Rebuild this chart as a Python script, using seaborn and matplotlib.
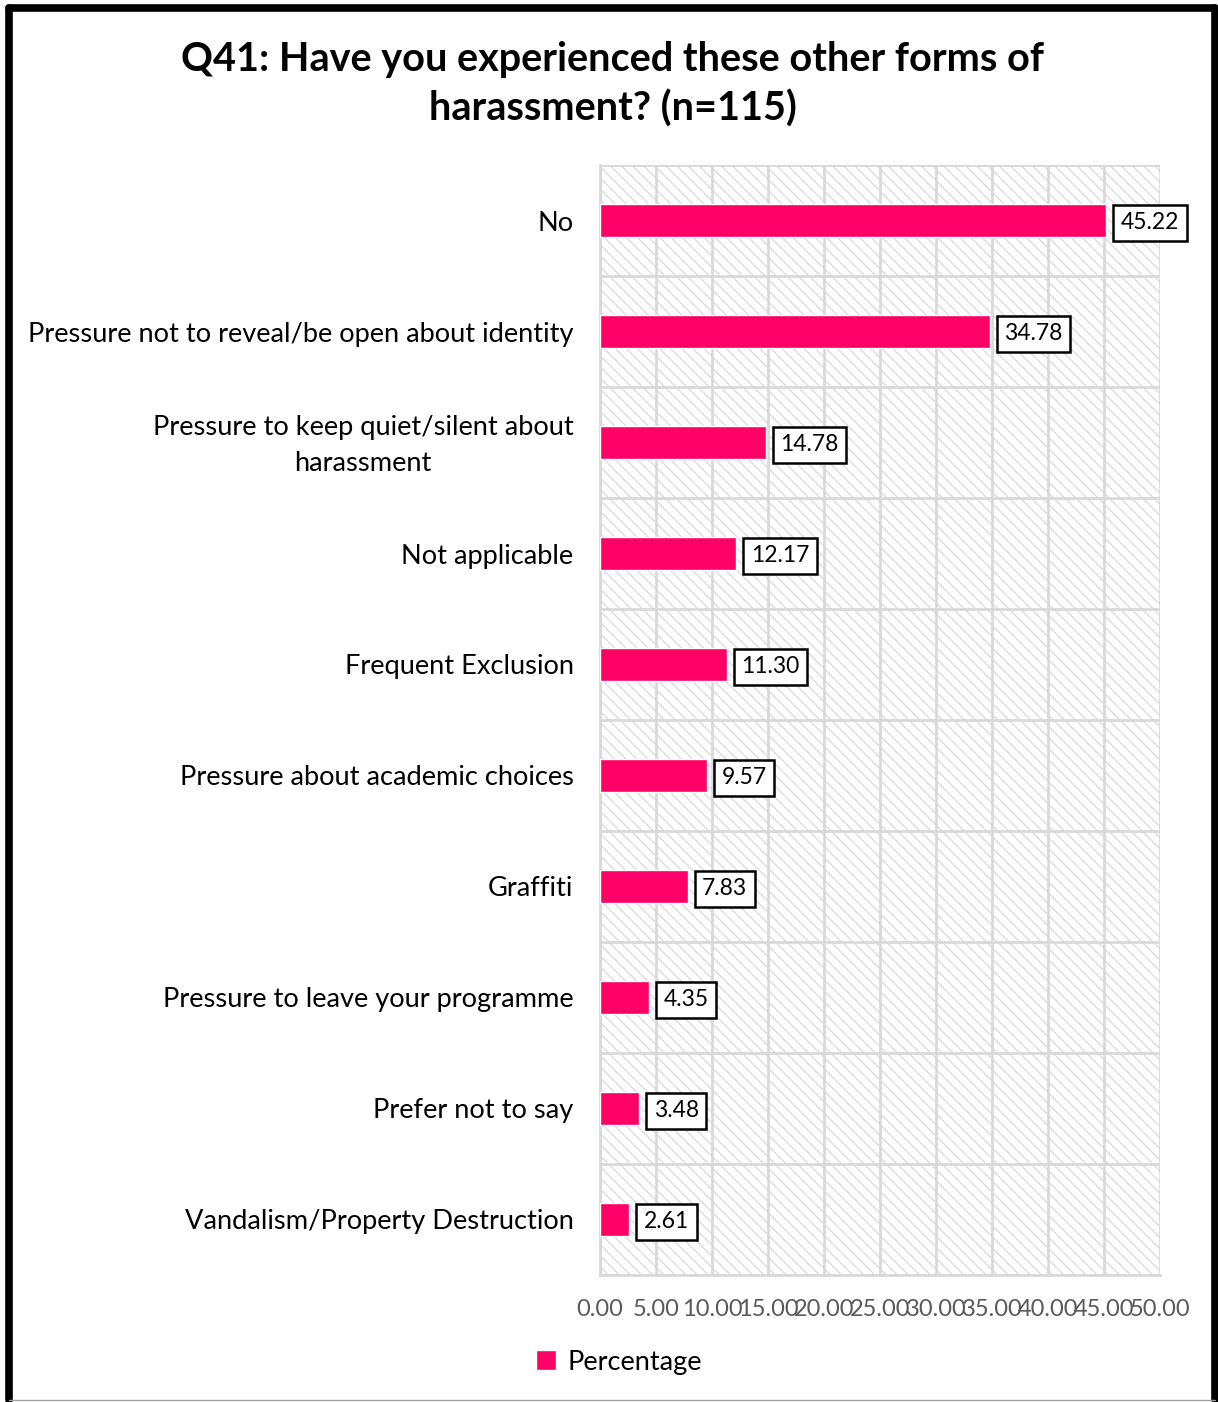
import pandas as pd
import matplotlib.pyplot as plt
import seaborn as sns
from matplotlib.patches import Rectangle
from matplotlib.lines import Line2D
from matplotlib.transforms import ScaledTranslation

categories = [
    "No",
    "Pressure not to reveal/be open about identity",
    "Pressure to keep quiet/silent about\nharassment",
    "Not applicable",
    "Frequent Exclusion",
    "Pressure about academic choices",
    "Graffiti",
    "Pressure to leave your programme",
    "Prefer not to say",
    "Vandalism/Property Destruction",
]
percentages = [45.22, 34.78, 14.78, 12.17, 11.30, 9.57, 7.83, 4.35, 3.48, 2.61]
x_ticks = [0, 5, 10, 15, 20, 25, 30, 35, 40, 45, 50]

df = pd.DataFrame({"category": categories, "Percentage": percentages})

sns.set_theme(style="white")
plt.rcParams["font.family"] = ["Lato", "DejaVu Sans"]
plt.rcParams["hatch.linewidth"] = 0.9
plt.rcParams["text.color"] = "black"

bar_color = "#FF0066"
grid_color = "#D9D9D9"

fig = plt.figure(figsize=(12.18, 14.02), dpi=100)
ax = fig.add_axes([0.4926, 0.0906, 0.4598, 0.7917])

# hatched plot-area background
ax.add_patch(Rectangle((0, 0), 1, 1, transform=ax.transAxes, facecolor="white",
                       edgecolor=grid_color, hatch="\\\\\\", lw=0, zorder=0))

sns.barplot(data=df, y="category", x="Percentage", color=bar_color, width=0.29,
            saturation=1, ax=ax, zorder=3, label="Percentage")

ax.set_xlim(0, 50)
ax.set_ylim(len(categories) - 0.5, -0.5)
ax.set_xticks(x_ticks)
ax.set_xticklabels([f"{t:.2f}" for t in x_ticks], color="#595959", fontsize=17)
ax.set_yticks(range(len(categories)))
ax.set_yticklabels(categories, fontsize=19.6, color="black")
ax.set_yticks([i - 0.5 for i in range(len(categories) + 1)], minor=True)

ax.tick_params(axis="y", which="major", length=0, pad=19)
ax.tick_params(axis="y", which="minor", length=8, width=2, color=grid_color)
ax.tick_params(axis="x", which="major", length=0, pad=17)

# two-line label: centred lines, a bit more spacing, nudged up
wrapped = ax.get_yticklabels()[2]
wrapped.set_multialignment("center")
wrapped.set_linespacing(1.55)
wrapped.set_transform(wrapped.get_transform() + ScaledTranslation(0, 0.05, fig.dpi_scale_trans))

ax.grid(False)
ax.xaxis.grid(True, which="major", color=grid_color, lw=2, zorder=1)
ax.yaxis.grid(True, which="minor", color=grid_color, lw=2, zorder=1)
ax.set_axisbelow(True)
for side in ["top", "right"]:
    ax.spines[side].set_visible(False)
for side in ["left", "bottom"]:
    ax.spines[side].set_color(grid_color)
    ax.spines[side].set_linewidth(2)
ax.set_xlabel("")
ax.set_ylabel("")

for i, v in enumerate(percentages):
    ax.text(v + 1.3, i + 0.02, f"{v:.2f}", va="center", ha="left", fontsize=16.5,
            color="black", zorder=5,
            bbox=dict(boxstyle="square,pad=0.33", fc="white", ec="black", lw=1.8))

fig.suptitle("Q41: Have you experienced these other forms of\nharassment? (n=115)",
             x=0.503, y=0.971, fontsize=28.5, fontweight="bold", linespacing=1.38,
             color="black")

ax.legend(loc="center", bbox_to_anchor=(0.508, 0.0285), bbox_transform=fig.transFigure,
          frameon=False, fontsize=19.5, handlelength=0.75, handleheight=0.75,
          handletextpad=0.4, labelcolor="black")

# chart border
fig.add_artist(Line2D([0.0074, 0.0074], [0.0015, 0.9942], transform=fig.transFigure, color="black", lw=5.5))
fig.add_artist(Line2D([0.0074, 0.9975], [0.9942, 0.9942], transform=fig.transFigure, color="black", lw=5.5))
fig.add_artist(Line2D([0.9975, 0.9975], [0.0015, 0.9942], transform=fig.transFigure, color="black", lw=5.5))
fig.add_artist(Line2D([0.0074, 0.9975], [0.0015, 0.0015], transform=fig.transFigure, color="#A0A0A0", lw=1))

fig.savefig("out.png", dpi=100)
